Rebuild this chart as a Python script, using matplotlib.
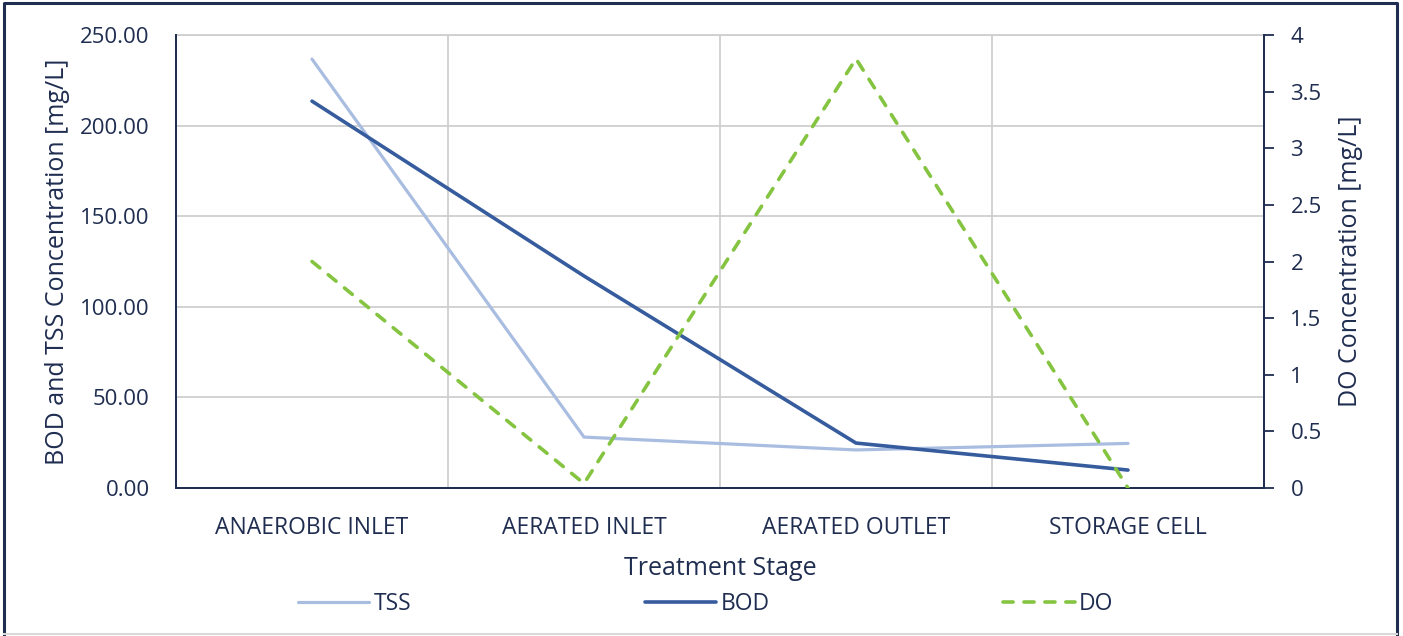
import numpy as np
import matplotlib.pyplot as plt
from matplotlib.lines import Line2D

plt.rcParams['font.family'] = ['Open Sans', 'DejaVu Sans']

# Datos por etapa de tratamiento
etapas = ["ANAEROBIC INLET", "AERATED INLET", "AERATED OUTLET", "STORAGE CELL"]
tss = [236.7, 28.1, 21.0, 24.6]
bod = [213.5, 117.0, 24.8, 9.9]
do = [2.0, 0.04, 3.79, 0.0]

texto = '#1F2D50'
c_tss = '#A9BDE1'
c_bod = '#365C9E'
c_do = '#85C441'
grid = '#CFCFCF'

fig = plt.figure(figsize=(14.03, 6.36), dpi=100)
ax = fig.add_axes([176 / 1403, 1 - 488 / 636, (1264 - 176) / 1403, (488 - 35) / 636])
ax2 = ax.twinx()

x = np.arange(len(etapas))
ax.plot(x, tss, color=c_tss, lw=2.3, solid_capstyle='round', zorder=3)
ax.plot(x, bod, color=c_bod, lw=2.6, solid_capstyle='round', zorder=4)
ax2.plot(x, do, color=c_do, lw=2.6, linestyle=(0, (2.8, 3.0)),
         dash_capstyle='round', zorder=5)

ax.set_xlim(-0.5, 3.5)
ax.set_ylim(0, 250)
ax2.set_ylim(0, 4)

ax.set_yticks(np.arange(0, 251, 50))
ax.set_yticklabels([f"{v:.2f}" for v in np.arange(0, 251, 50)])
ax2.set_yticks(np.arange(0, 4.01, 0.5))
ax2.set_yticklabels([f"{v:g}" for v in np.arange(0, 4.01, 0.5)])
ax.set_xticks(x)
ax.set_xticklabels(etapas)

# rejilla: horizontales del eje izquierdo y separadores entre categorías
ax.grid(axis='y', color=grid, lw=1.3)
for b in [0.5, 1.5, 2.5]:
    ax.axvline(b, color=grid, lw=1.3, zorder=0)
ax.set_axisbelow(True)

for a in (ax, ax2):
    a.spines['top'].set_visible(False)
    for s in ['left', 'right', 'bottom']:
        a.spines[s].set_color(texto)
        a.spines[s].set_linewidth(1.3)
ax.axhline(250, color=grid, lw=1.3, zorder=0, clip_on=False)

ax.tick_params(axis='y', length=0, pad=19, labelsize=16, labelcolor=texto)
ax.tick_params(axis='x', length=0, pad=20, labelsize=16.5, labelcolor=texto)
ax2.tick_params(axis='y', length=7, width=1.3, color=texto, pad=12,
                labelsize=16, labelcolor=texto)

ax.set_ylabel("BOD and TSS Concentration [mg/L]", fontsize=18, color=texto, labelpad=7)
ax2.set_ylabel("DO Concentration [mg/L]", fontsize=18, color=texto, labelpad=12)
ax.set_xlabel("Treatment Stage", fontsize=18, color=texto, labelpad=12)

handles = [
    Line2D([], [], color=c_tss, lw=2.3, solid_capstyle='round'),
    Line2D([], [], color=c_bod, lw=2.6, solid_capstyle='round'),
    Line2D([], [], color=c_do, lw=2.6, linestyle=(0, (2.8, 3.0)), dash_capstyle='round'),
]
fig.legend(handles, ["TSS", "BOD", "DO"], loc='center', bbox_to_anchor=(0.503, 1 - 604 / 636),
           ncol=3, frameon=False, fontsize=16.5, labelcolor=texto,
           handlelength=3.1, handletextpad=0.2, columnspacing=10.2)

# marco exterior
fig.add_artist(Line2D([4 / 1403, 4 / 1403, 1397 / 1403, 1397 / 1403],
                      [1 - 634 / 636, 1 - 3 / 636, 1 - 3 / 636, 1 - 634 / 636],
                      transform=fig.transFigure, color=texto, lw=2.2))
fig.add_artist(Line2D([4 / 1403, 1397 / 1403], [1 - 634 / 636, 1 - 634 / 636],
                      transform=fig.transFigure, color='#D9D9D9', lw=1.5))

fig.savefig("out.png", dpi=100)
